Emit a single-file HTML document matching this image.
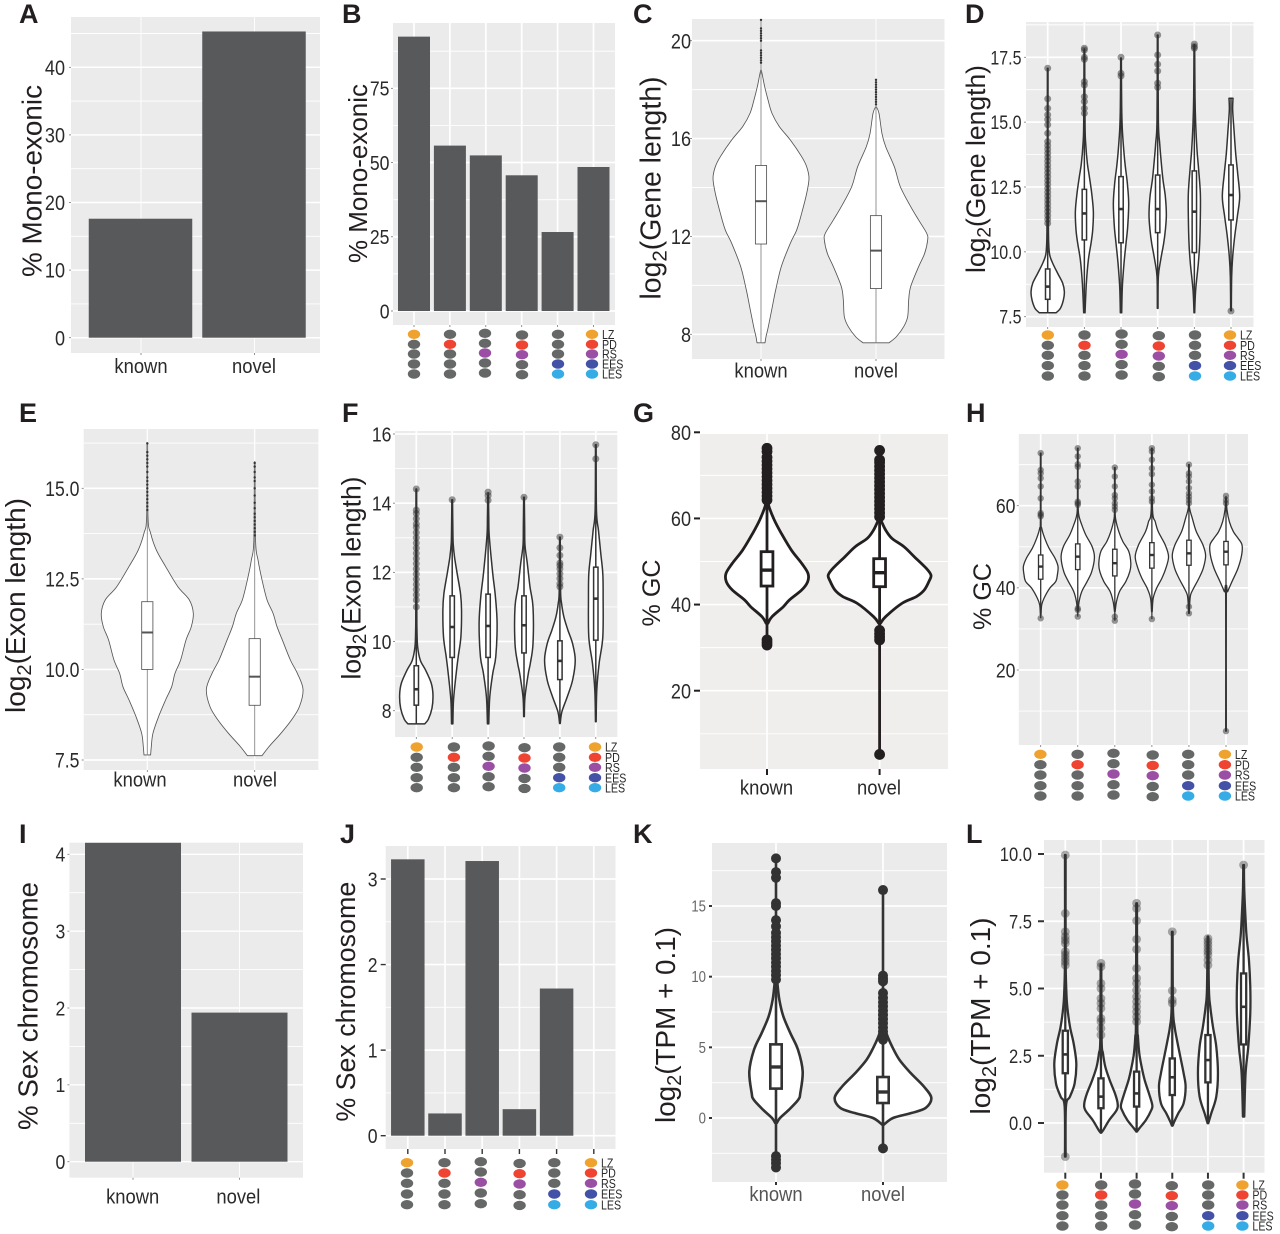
<!DOCTYPE html>
<html lang="en">
<head>
<meta charset="utf-8">
<title>Transcript features across stages</title>
<style>
html,body{margin:0;padding:0;background:#fff;}
svg{display:block;font-family:"Liberation Sans",Arial,sans-serif;}
</style>
</head>
<body>
<svg id="figure" xmlns="http://www.w3.org/2000/svg" width="1280" height="1234" viewBox="0 0 1280 1234"></svg>
<script>
/* ---------- shared categories ---------- */
const stageNames = ['LZ','PD','RS','EES','LES'];
const stageColors = ['#efa22e','#ee4431','#9a4fa5','#4352a6','#35ace6'];
const comboMembership = [[1,0,0,0,0],[0,1,0,0,0],[0,0,1,0,0],[0,1,1,0,0],[0,0,0,1,1],[1,1,1,1,1]];
const knownNovel = ['known','novel'];

/* ---------- A ---------- */
const panelAValues = [17.6,45.3];
const panelATicks = [0,10,20,30,40];
/* ---------- B ---------- */
const panelBValues = [92.4,55.7,52.4,45.7,26.6,48.5];
const panelBTicks = [0,25,50,75];
/* ---------- I ---------- */
const panelIValues = [4.15,1.94];
const panelITicks = [0,1,2,3,4];
/* ---------- J ---------- */
const panelJValues = [3.23,0.26,3.21,0.31,1.72,0];
const panelJTicks = [0,1,2,3];

/* ---------- C ---------- */
const panelCTicks = [8,12,16,20];
const panelCLevels = [
 [7.65,7.9,8.31,9.13,9.81,10.77,11.72,12.26,12.95,13.76,14.38,14.85,15.26,15.94,16.49,17.03,17.58,18.12,18.53,18.8],
 [7.65,7.9,8.31,8.72,9.4,9.95,10.77,11.31,11.86,12.13,12.67,13.22,14.03,14.85,15.67,16.2,17.03,17.3]
];
const panelCDensity = [
 [12,15,22,34,44,61,88,107,122,137,144,137,122,88,55,33,21,11,5,1],
 [39,61,83,95,98,104,128,146,155,152,128,104,73,55,29,18,9,1]
];
const panelCBoxes = [[11.69,13.44,14.9],[9.87,11.42,12.85]];
const panelCOutliers = [
 [19.1,19.2,19.3,19.4,19.5,19.6,20,20.1,20.2,20.3,20.4,20.5,20.85],
 [17.4,17.5,17.6,17.7,17.8,17.9,18,18.1,18.2,18.3,18.4]
];
/* ---------- D ---------- */
const panelDTicks = [7.5,10,12.5,15,17.5];
const panelDLevels = [
 [7.65,7.82,8.14,8.46,8.79,9.17,9.56,9.88,10.33,11.1,13.41,17.08],
 [7.65,8.79,9.69,10.33,10.84,11.55,12.26,12.9,13.41,14.18,14.95,17.78],
 [7.65,8.66,9.56,10.33,10.97,11.87,12.64,13.28,13.8,14.7,15.6,17.46],
 [7.82,9.04,9.69,10.33,10.84,11.42,12.13,12.77,13.41,14.18,15.08,18.36],
 [7.65,8.53,9.56,10.33,11.36,12.26,13.16,13.93,14.95,15.98,17.98],
 [7.73,9.04,9.81,10.58,11.36,12.13,13.03,13.8,14.7,15.47,15.92]
];
const panelDDensity = [
 [25,38,47,50,45,30,15,6,3,2,1,1],
 [2,6,12,20,25,27,22,15,9,4,2,1],
 [2,4,9,15,20,23,19,13,9,4,2,1],
 [1,2,9,18,23,26,23,16,11,6,2,1],
 [1,4,12,16,18,18,13,8,4,2,1],
 [1,2,5,11,19,26,20,14,9,5,6]
];
const panelDBoxes = [[8.17,8.66,9.34],[10.46,11.48,12.41],[10.35,11.65,12.9],[10.74,11.65,12.96],[9.97,11.55,13.12],[11.23,12.19,13.35]];
const panelDOutliers = [
 [17.08,15.9,15.53,15.28,15.1,14.9,14.57,14.25,14.1,13.95,13.8,13.65,13.5,13.35,13.2,13.05,12.9,12.75,12.6,12.45,12.3,12.15,12,11.85,11.7,11.55,11.4,11.25,11.1],
 [17.85,17.78,17.5,17.42,16.56,16.43,15.98,15.79,15.53,15.34],
 [17.5,16.88,16.78],
 [18.36,17.59,17.23,16.97,16.5,16.34],
 [18.01,17.91,17.85],
 [7.72]
];
/* ---------- E ---------- */
const panelETicks = [7.5,10,12.5,15];
const panelELevels = [
 [7.64,7.87,8.24,8.7,9.16,9.52,9.89,10.26,10.81,11.18,11.55,11.92,12.28,12.84,13.3,13.76,14.22,16.24],
 [7.62,7.87,8.24,8.6,8.97,9.45,9.89,10.26,10.81,11.18,11.55,11.92,12.47,13.02,13.57,15.73]
];
const panelEDensity = [
 [10,12,17,34,55,73,83,100,116,132,138,126,92,55,27,10,2,1],
 [22,43,79,110,134,145,128,107,83,67,55,37,22,10,2.5,1]
];
const panelEBoxes = [[10,11.02,11.87],[9.01,9.8,10.85]];
const panelEOutliers = [
 [14.4,14.5,14.6,14.7,14.8,14.9,15,15.1,15.2,15.3,15.45,15.6,15.7,15.8,15.9,16,16.24],
 [13.7,13.8,13.9,14,14.1,14.2,14.3,14.45,14.6,14.8,15,15.2,15.3,15.45,15.6,15.7]
];
/* ---------- F ---------- */
const panelFTicks = [8,10,12,14,16];
const panelFLevels = [
 [7.62,7.75,8.07,8.45,8.79,9.17,9.46,9.85,10.33,11,14.41],
 [7.62,8.31,9.08,9.56,10.13,10.9,11.38,11.96,12.44,12.83,13.21,14.1],
 [7.62,8.4,9.08,9.56,10.52,11.29,11.87,12.44,13.12,13.6,14.22],
 [7.83,8.4,9.08,9.37,9.94,11,11.58,12.25,12.78,13.31,14.17],
 [7.63,7.97,8.4,8.88,9.46,9.94,10.33,10.71,11.1,11.48,13.02],
 [7.68,8.6,9.37,10.13,11.29,11.96,12.54,13.21,13.79,15.69]
];
const panelFDensity = [
 [25,36,47,50,45,28,12,4,2,1.5,1],
 [2,4,12,18,26,28,25,15,7,3,2,1],
 [2,5,14,23,27,22,15,9,3,2,1],
 [1,3,13,19,27,27,18,10,3,2,1],
 [1,6,22,38,46,38,24,12,5,2,1],
 [1,3,10,21,22,21,15,8,2,1]
];
const panelFBoxes = [[8.16,8.62,9.3],[9.54,10.42,11.32],[9.54,10.45,11.37],[9.67,10.47,11.32],[8.9,9.44,10.02],[10.04,11.24,12.15]];
const panelFOutliers = [
 [14.41,13.8,13.7,13.55,13.4,13.3,13.15,13,12.85,12.7,12.55,12.4,12.25,12.1,11.95,11.8,11.65,11.5,11.35,11.2,11],
 [14.1],
 [14.32,14.22,14.08],
 [14.17],
 [13.02,12.71,12.49,12.27,12.2,12.1,11.96,11.82,11.67,11.58],
 [15.69,15.28]
];
/* ---------- G ---------- */
const panelGTicks = [20,40,60,80];
const panelGLevels = [
 [35.63,37.18,39.5,41.05,43.37,45.3,47.24,49.57,52.66,56.53,59.63,62.72,64.3],
 [35.63,37.18,40.28,41.83,43.37,45.7,46.86,48.41,51.11,53.44,55.37,57.31,59.63]
];
const panelGDensity = [
 [2.5,15,49,67,104,122,123,104,73,43,22,6,2.5],
 [2.5,18,67,110,134,150,154,140,104,73,37,18,3.7]
];
const panelGBoxes = [[44.3,48,52.28],[44.15,47.4,50.65]];
const panelGOutliers = [
 [64.3,65.2,66.1,67,67.9,68.8,69.7,70.6,71.5,72.4,73.3,74.2,75.5,76.3,31.8,31.2,30.6],
 [60.4,61.3,62.2,63.1,64,64.9,65.8,66.7,67.6,68.5,69.4,70.3,71.2,72.1,73,73.6,75.8,34,33.2,32.5,31.8,5.2]
];
/* ---------- H ---------- */
const panelHTicks = [20,40,60];
const panelHLevels = [
 [33.4,35.84,37.47,39.9,41.53,43.15,45.18,47.21,49.65,52.09,54.52,56.56,72.8],
 [34.2,36.65,39.09,41.53,43.96,47.46,50.06,52.9,55.34,57.77,61.02,74],
 [34.2,36.65,39.09,41.53,43.96,46,48.84,51.28,53.7,56.56,59,69.3],
 [34.2,37.47,39.9,42.34,44.78,47.62,50.46,53.71,56.15,59,74],
 [33.8,35.84,38.28,39.9,42.34,44.78,47.86,50.46,53.71,56.96,59,61,70],
 [5.13,37.87,39.09,41.53,44.78,48.03,50.46,52.09,53.71,56.15,59,61.84]
];
const panelHDensity = [
 [1,3,10,27,45,50,52,43,25,12,3,1,1],
 [1,4,12,28,42,50,43,24,12,3,1,1],
 [1,5,14,33,45,48,42,24,12,3,1,1],
 [1,4,14,30,42,50,40,19,10,2,1],
 [1,2,5,14,30,43,50,42,22,10,3,1,1],
 [1,1,5,18,36,47,48,36,22,10,3,1]
];
const panelHBoxes = [[42.1,45.18,48],[44.45,47.6,50.7],[42.9,46,49.4],[44.8,48,51],[45.5,48.4,51.6],[45.6,48.8,51.3]];
const panelHOutliers = [
 [32.6,72.8,68.7,67.9,66.7,64.7,61.8,58.2,57.8,57.4],
 [74,72,70.1,69.5,65.9,64.7,61,60.6,60.2,35,34.6,33],
 [69.3,67.1,64.7,62.6,61.8,60.6,59.8,59,33,32],
 [74,73.2,71.2,69.1,67.7,65.1,63.5,61.8,61,32.4],
 [70,67.9,67.1,65.9,64.3,63,62.2,61.4,60.6,35.4,33.8],
 [5.13,62.4,61.4,60.6]
];
/* ---------- K ---------- */
const panelKTicks = [0,5,10,15];
const panelKLevels = [
 [-0.35,0,0.59,1.3,1.77,3.3,4.83,6.01,7.19,8.37,9.55],
 [-0.47,0,0.35,0.71,1.42,2.24,3.18,4.13,5.07,6.01,6.72]
];
const panelKDensity = [
 [2.5,12,39,67,73,80,66,43,22,10,4],
 [2.5,30,85,128,145,122,83,49,27,10,4]
];
const panelKBoxes = [[2.08,3.61,5.21],[1.06,1.84,2.9]];
const panelKOutliers = [
 [18.37,17.4,17.0,15.2,15,14,13.56,13.1,12.8,12.5,12.2,11.9,11.6,11.3,11,10.7,10.4,10.1,9.8,-2.7,-2.95,-3.2,-3.5],
 [16.13,10.07,9.85,9.67,8.84,8.5,8.2,7.9,7.6,7.3,7,6.7,6.4,6.1,5.8,5.54,-2.15]
];
/* ---------- L ---------- */
const panelLTicks = [0,2.5,5,7.5,10];
const panelLLevels = [
 [-1.25,0.61,0.98,1.47,2.22,2.96,3.58,4.32,4.94,6.18,9.96],
 [-0.36,-0.24,0.11,0.48,0.73,1.1,1.6,2.09,2.59,3.09,5.87],
 [-0.32,-0.2,0.11,0.48,0.67,1.1,1.6,2.09,2.59,3.21,3.83,8.17],
 [-0.1,0.05,0.36,0.73,1.35,1.85,2.47,3.09,3.58,4.32,7.11],
 [-0.01,0.36,0.98,1.85,2.84,3.58,4.32,4.94,6.93],
 [0.24,1.85,2.84,4.08,5.07,6.06,6.93,7.55,8.66,9.59]
];
const panelLDensity = [
 [1,2,14,28,33,25,14,6,3,1,1],
 [1,8,25,47,50,42,26,13,6,2,1],
 [1,8,28,44,47,37,24,15,8,4,2,1],
 [1,6,18,34,40,34,24,14,7,2,1],
 [1,10,25,30,25,15,7,3,1],
 [2,6,14,20,20,16,9,6,2,1]
];
const panelLBoxes = [[1.85,2.55,3.43],[0.55,0.98,1.66],[0.61,1.1,1.91],[1.04,1.7,2.4],[1.51,2.34,3.27],[2.92,4.32,5.56]];
const panelLOutliers = [
 [9.96,7.79,7.11,6.93,6.8,6.68,6.37,6.25,6.12,6,5.87,-1.25],
 [5.94,5.81,5.19,5,4.63,4.45,4.26,3.89,3.77,3.52,3.27],
 [8.17,7.98,7.52,6.83,6.46,5.75,5.38,5.19,4.94,4.7,4.51,4.32,4.14,3.95,3.77],
 [7.11,4.92,4.57,4.45],
 [6.86,6.74,6.62,6.49,6.37,6.25,6.06,5.87],
 [9.59]
];

/* ---------- helpers ---------- */
const NS = 'http://www.w3.org/2000/svg';
const root = document.getElementById('figure');
const DENSITY_TO_PX = 1/3;

function make(tag, attrs, parent){
  const n = document.createElementNS(NS, tag);
  for (const k in attrs) n.setAttribute(k, attrs[k]);
  parent.appendChild(n);
  return n;
}
function linear(v0,p0,v1,p1){
  return function(v){ return p0 + (v - v0) * (p1 - p0) / (v1 - v0); };
}
function fitWidth(node, cond){
  const w = node.getComputedTextLength();
  node.setAttribute('textLength', (w * cond).toFixed(2));
  node.setAttribute('lengthAdjust', 'spacingAndGlyphs');
}
function smooth(pts){
  let d = '';
  for (let i = 0; i < pts.length - 1; i++){
    const p0 = pts[Math.max(i-1,0)], p1 = pts[i], p2 = pts[i+1], p3 = pts[Math.min(i+2,pts.length-1)];
    const c1x = p1[0] + (p2[0]-p0[0])/6, c1y = p1[1] + (p2[1]-p0[1])/6;
    const c2x = p2[0] - (p3[0]-p1[0])/6, c2y = p2[1] - (p3[1]-p1[1])/6;
    d += 'C' + c1x.toFixed(2) + ' ' + c1y.toFixed(2) + ' ' + c2x.toFixed(2) + ' ' + c2y.toFixed(2) + ' ' + p2[0].toFixed(2) + ' ' + p2[1].toFixed(2);
  }
  return d;
}

function drawFrame(c){
  const g = make('g', {}, root);
  
  
  const y = linear(c.y[0], c.y[1], c.y[2], c.y[3]);
  const x = function(i){ return c.cx0 + i * c.step; };
  const b = c.bg;

  const bg = make('rect', {x:b[0], y:b[1], width:b[2]-b[0], height:b[3]-b[1], fill:c.bgColor || '#ebebeb'}, g);
  
  

  const s = c.ticks[1] - c.ticks[0];
  for (let k = -4; k < c.ticks.length + 4; k++){
    const v = c.ticks[0] + (k + 0.5) * s;
    const py = y(v);
    if (py < b[1] || py > b[3]) continue;
    const ln = make('line', {x1:b[0], x2:b[2], y1:py, y2:py, stroke:'#fff', 'stroke-width':c.minorW || 0.9}, g);
    
    
  }
  c.ticks.forEach(function(v){
    const py = y(v);
    if (py >= b[1] && py <= b[3]){
      const ln = make('line', {x1:b[0], x2:b[2], y1:py, y2:py, stroke:'#fff', 'stroke-width':c.majorW || 1.7}, g);
      
      
    }
    const tk = make('line', {x1:b[0]-c.tickLen, x2:b[0], y1:py, y2:py, stroke:c.tickColor, 'stroke-width':c.tickW}, g);
    
    
    const lb = make('text', {x:c.labelEnd, y:py + c.tickFont*0.36, 'text-anchor':'end', 'font-size':c.tickFont, fill:c.tickText || '#2a2a2a'}, g);
    lb.textContent = v.toFixed(c.decimals || 0);
    
    
    fitWidth(lb, c.cond || 0.86);
  });
  for (let i = 0; i < c.count; i++){
    const px = x(i);
    const ln = make('line', {x1:px, x2:px, y1:b[1], y2:b[3], stroke:'#fff', 'stroke-width':c.vgridW || 1.7}, g);
    
    
    const tk = make('line', {x1:px, x2:px, y1:b[3], y2:b[3]+c.tickLen, stroke:c.tickColor, 'stroke-width':c.tickW}, g);
    
    
  }

  const letter = make('text', {x:c.letterPos[0], y:c.letterPos[1], 'font-size':27, 'font-weight':'bold', fill:'#231f20'}, g);
  letter.textContent = c.letter;
  
  

  const t = c.title;
  const title = make('text', {transform:'rotate(-90 ' + t.x + ' ' + t.cy + ')', x:t.x, y:t.cy, 'text-anchor':'middle', 'font-size':28, fill:'#231f20'}, g);
  
  
  if (t.sub){
    title.appendChild(document.createTextNode(t.pre));
    const sub = make('tspan', {'font-size':'0.72em', dy:'0.3em'}, title);
    sub.textContent = t.sub;
    const post = make('tspan', {dy:'-0.216em'}, title);
    post.textContent = t.post;
  } else {
    title.textContent = t.pre;
  }
  title.setAttribute('font-size', (28 * t.len / title.getComputedTextLength()).toFixed(2));

  if (c.catLabels){
    c.catLabels.forEach(function(name, i){
      const lb = make('text', {x:c.catX[i], y:c.catY, 'text-anchor':'middle', 'font-size':20, fill:c.catColor || '#2a2a2a'}, g);
      lb.textContent = name;
      
      
      fitWidth(lb, 0.92);
    });
  }
  if (c.dots){
    comboMembership.forEach(function(row, col){
      const off = col === 2 ? -1 : (col === 3 ? 0.7 : 0);
      row.forEach(function(on, r){
        const e = make('ellipse', {cx:c.dots.xs[col], cy:c.dots.ys[r] + off, rx:6.2, ry:4.7, fill:on ? stageColors[r] : '#666767'}, g);
        
        
      });
    });
    stageNames.forEach(function(name, r){
      const lb = make('text', {x:c.dots.xs[5] + 10, y:c.dots.ys[r] + 4.6, 'font-size':13, fill:'#2a2a2a'}, g);
      lb.textContent = name;
      
      
      fitWidth(lb, 0.82);
    });
  }
  return {g:g, x:x, y:y};
}

function drawBars(c, values){
  const f = drawFrame(c);
  values.forEach(function(v, i){
    const top = Math.min(f.y(v), f.y(0));
    const r = make('rect', {x:f.x(i) + (c.barShift || 0) - c.barW/2, y:top, width:c.barW, height:Math.abs(f.y(0) - f.y(v)), fill:'#58595b'}, f.g);
    
    
  });
}

function drawViolins(c, levels, density, boxes, outliers){
  const f = drawFrame(c);
  const st = c.style;
  levels.forEach(function(lv, i){
    const cx = f.x(i);
    const right = lv.map(function(v, k){ return [cx + density[i][k]*DENSITY_TO_PX, f.y(v)]; });
    const left = lv.map(function(v, k){ return [cx - density[i][k]*DENSITY_TO_PX, f.y(v)]; }).reverse();
    const d = 'M' + right[0][0].toFixed(2) + ' ' + right[0][1].toFixed(2) + smooth(right) +
              'L' + left[0][0].toFixed(2) + ' ' + left[0][1].toFixed(2) + smooth(left) + 'Z';
    const v = make('path', {d:d, fill:'#fff', stroke:st.color, 'stroke-width':st.w, 'stroke-linejoin':'round'}, f.g);
    
    

    const extent = lv.concat(outliers[i]);
    const wh = make('line', {x1:cx, x2:cx, y1:f.y(Math.min.apply(null, extent)), y2:f.y(Math.max.apply(null, extent)), stroke:st.whisker || st.color, 'stroke-width':st.whiskerW || st.w}, f.g);
    
    

    const bx = boxes[i];
    const rect = make('rect', {x:cx - st.boxHW, y:f.y(bx[2]), width:st.boxHW*2, height:f.y(bx[0]) - f.y(bx[2]), fill:'#fff', stroke:st.color, 'stroke-width':st.w}, f.g);
    
    
    const med = make('line', {x1:cx - st.boxHW, x2:cx + st.boxHW, y1:f.y(bx[1]), y2:f.y(bx[1]), stroke:st.color, 'stroke-width':st.medW}, f.g);
    
    

    outliers[i].forEach(function(o){
      const p = make('circle', {cx:cx, cy:f.y(o), r:st.pointR, fill:st.pointFill}, f.g);
      
      
    });
  });
}

/* ---------- thin / medium / heavy line styles ---------- */
const thinViolin = {color:'#555', w:0.85, whisker:'#888', whiskerW:0.9, boxHW:5.6, medW:2, pointR:1.2, pointFill:'#333'};
const midViolin = {color:'#333', w:1.5, boxHW:2.2, medW:2.6, pointR:3.5, pointFill:'rgba(50,50,50,0.5)'};
const lightTick = {tickLen:2, tickW:0.8, tickColor:'#777'};

/* ---------- panels ---------- */
drawBars(Object.assign({letter:'A', letterPos:[19,23], bg:[71,17,320,353], y:[0,337.7,40,67.3], cx0:141, step:113.5, count:2, ticks:panelATicks,
  tickFont:21, labelEnd:65, vgridW:0.9, majorW:1.5, barW:103.5, barShift:-0.5,
  title:{pre:'% Mono-exonic', x:41.5, cy:181, len:192}, catLabels:knownNovel, catX:[141,254], catY:373}, lightTick), panelAValues);

drawBars(Object.assign({letter:'B', letterPos:[342,23], bg:[393,23,615,325], y:[0,311,75,88.3], cx0:414, step:35.9, count:6, ticks:panelBTicks,
  tickFont:20.5, labelEnd:389.5, barW:32,
  title:{pre:'% Mono-exonic', x:367, cy:173.5, len:179},
  dots:{xs:[414,450,485,522,558,592], ys:[334.3,344.3,354,364,374]}}, lightTick), panelBValues);

drawViolins(Object.assign({letter:'C', letterPos:[633,23], bg:[692,19,944.5,359], y:[8,334.3,20,40.7], cx0:761, step:115, count:2, ticks:panelCTicks,
  tickFont:21, labelEnd:691, vgridW:0.9, style:thinViolin,
  title:{pre:'log', sub:'2', post:'(Gene length)', x:660.5, cy:188, len:223}, catLabels:knownNovel, catX:[761,876], catY:377.5}, lightTick),
  panelCLevels, panelCDensity, panelCBoxes, panelCOutliers);

drawViolins(Object.assign({letter:'D', letterPos:[965,23], bg:[1026,22,1253.5,327], y:[7.5,316.7,17.5,57.3], cx0:1047.7, step:36.66, count:6, ticks:panelDTicks,
  tickFont:19.5, labelEnd:1021.5, decimals:1, cond:0.82, style:midViolin,
  title:{pre:'log', sub:'2', post:'(Gene length)', x:985, cy:169, len:208},
  dots:{xs:[1047.8,1084.5,1121.6,1158.8,1195,1230], ys:[335,345.3,355.3,365.6,376]}}, lightTick),
  panelDLevels, panelDDensity, panelDBoxes, panelDOutliers);

drawViolins(Object.assign({letter:'E', letterPos:[19,422], bg:[83.7,429,318.4,770], y:[7.5,760,15,488.3], cx0:147.3, step:107.4, count:2, ticks:panelETicks,
  tickFont:21, labelEnd:79.5, decimals:1, cond:0.84, vgridW:1.2, style:thinViolin,
  title:{pre:'log', sub:'2', post:'(Exon length)', x:25, cy:605.5, len:215}, catLabels:knownNovel, catX:[140,255], catY:786.5}, lightTick),
  panelELevels, panelEDensity, panelEBoxes, panelEOutliers);

drawViolins(Object.assign({letter:'F', letterPos:[342,422], bg:[395,431,617.3,737], y:[8,710.7,16,434], cx0:416.3, step:35.9, count:6, ticks:panelFTicks,
  tickFont:20.5, labelEnd:391.5, style:midViolin,
  title:{pre:'log', sub:'2', post:'(Exon length)', x:360.5, cy:578, len:203},
  dots:{xs:[416.7,453.9,488.6,524.5,559.2,595], ys:[747,757.3,767.3,777.7,787.7]}}, lightTick),
  panelFLevels, panelFDensity, panelFBoxes, panelFOutliers);

drawViolins({letter:'G', letterPos:[633,422], bg:[700,434,948,769], bgColor:'#efeeec', y:[20,690.7,80,432.3], cx0:767, step:112.6, count:2, ticks:panelGTicks,
  tickFont:21, labelEnd:691, tickLen:6, tickW:2, tickColor:'#231f20',
  style:{color:'#231f20', w:2.8, boxHW:5.9, medW:3.4, pointR:5.4, pointFill:'#231f20'},
  title:{pre:'% GC', x:660, cy:593, len:67}, catLabels:knownNovel, catX:[766.5,879], catY:794.5},
  panelGLevels, panelGDensity, panelGBoxes, panelGOutliers);

drawViolins(Object.assign({letter:'H', letterPos:[966,422], bg:[1018.8,434,1248,745], y:[20,670,60,505.7], cx0:1040.7, step:37.06, count:6, ticks:panelHTicks,
  tickFont:20.5, labelEnd:1015.5, style:{color:'#333', w:1.3, boxHW:2.2, medW:2.4, pointR:3.2, pointFill:'rgba(50,50,50,0.5)'},
  title:{pre:'% GC', x:991, cy:596.5, len:67},
  dots:{xs:[1040.4,1077.6,1113.5,1152.7,1188.2,1224.9], ys:[754.3,764.7,775,785.7,796]}}, lightTick),
  panelHLevels, panelHDensity, panelHBoxes, panelHOutliers);

drawBars(Object.assign({letter:'I', letterPos:[19,843], bg:[69.4,842.7,303,1177.7], y:[0,1161.7,4,854.3], cx0:133, step:106.5, count:2, ticks:panelITicks,
  tickFont:20.5, labelEnd:65.3, vgridW:0.9, majorW:1.4, barW:96,
  title:{pre:'% Sex chromosome', x:37.5, cy:1006, len:248}, catLabels:knownNovel, catX:[132.7,238.4], catY:1203.5}, lightTick), panelIValues);

drawBars({letter:'J', letterPos:[340,843], bg:[385.7,846,615.5,1149], y:[0,1135.7,3,879], cx0:407.8, step:37.2, count:6, ticks:panelJTicks,
  tickFont:20.5, labelEnd:377.5, tickLen:5, tickW:1.4, tickColor:'#333', barW:33.5,
  title:{pre:'% Sex chromosome', x:355, cy:1001.7, len:240},
  dots:{xs:[407,444.5,480.8,519.6,554.3,591], ys:[1162.7,1173,1183.3,1194,1204.7]}}, panelJValues);

drawViolins({letter:'K', letterPos:[633,843], bg:[712,843,947,1182], y:[0,1118,15,906], cx0:776, step:107, count:2, ticks:panelKTicks,
  tickFont:15.5, labelEnd:706, tickLen:3, tickW:2, tickColor:'#333', tickText:'#666', cond:0.85,
  style:{color:'#333', w:2.6, boxHW:5.7, medW:3.4, pointR:5, pointFill:'#333'},
  title:{pre:'log', sub:'2', post:'(TPM + 0.1)', x:675, cy:1025, len:196}, catLabels:knownNovel, catX:[776,883], catY:1201, catColor:'#555'},
  panelKLevels, panelKDensity, panelKBoxes, panelKOutliers);

drawViolins({letter:'L', letterPos:[966,843], bg:[1044,840,1264.5,1172.7], y:[0,1123,10,854], cx0:1065.3, step:35.66, count:6, ticks:panelLTicks,
  tickFont:19.5, labelEnd:1032, decimals:1, cond:0.85, tickLen:6, tickW:2, tickColor:'#333',
  style:{color:'#333', w:2.3, boxHW:2.6, medW:2.6, pointR:4.4, pointFill:'rgba(50,50,50,0.4)'},
  title:{pre:'log', sub:'2', post:'(TPM + 0.1)', x:990, cy:1016, len:197},
  dots:{xs:[1062.4,1101.2,1135,1171.8,1208.2,1242.4], ys:[1185,1195,1205,1215.7,1226]}},
  panelLLevels, panelLDensity, panelLBoxes, panelLOutliers);
</script>
</body>
</html>
